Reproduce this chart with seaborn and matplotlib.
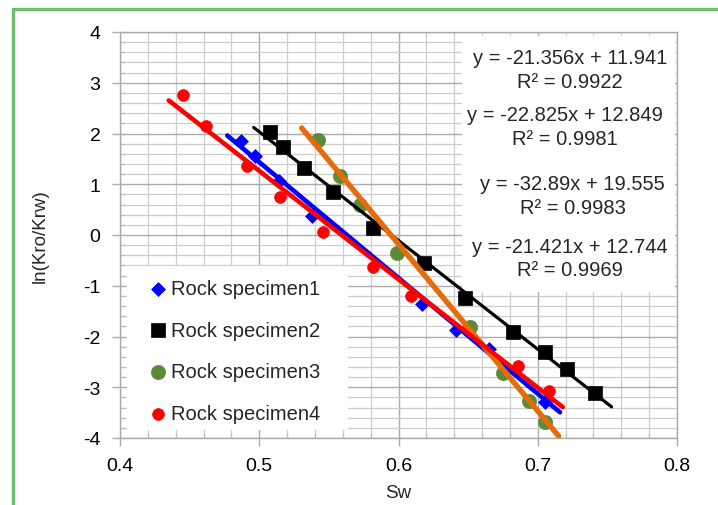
import numpy as np
import pandas as pd
import matplotlib.pyplot as plt
from matplotlib.patches import Rectangle
from matplotlib.ticker import MultipleLocator, FormatStrFormatter
import seaborn as sns

# ---- data ----
specimens = ["Rock specimen1", "Rock specimen2", "Rock specimen3", "Rock specimen4"]

sw1 = [0.487, 0.497, 0.514, 0.538, 0.617, 0.641, 0.665, 0.705]
ln1 = [1.86, 1.55, 1.07, 0.38, -1.36, -1.88, -2.25, -3.30]
sw2 = [0.508, 0.517, 0.532, 0.553, 0.582, 0.618, 0.648, 0.682, 0.705, 0.721, 0.741]
ln2 = [2.02, 1.73, 1.33, 0.84, 0.13, -0.55, -1.25, -1.91, -2.30, -2.65, -3.11]
sw3 = [0.542, 0.558, 0.572, 0.599, 0.651, 0.675, 0.694, 0.705]
ln3 = [1.87, 1.17, 0.59, -0.36, -1.82, -2.71, -3.27, -3.69]
sw4 = [0.445, 0.462, 0.491, 0.515, 0.546, 0.582, 0.609, 0.686, 0.708]
ln4 = [2.75, 2.15, 1.35, 0.74, 0.05, -0.64, -1.20, -2.58, -3.07]

# linear trendlines (slope, intercept) and the Sw span they cover
slopes = [-22.825, -21.421, -32.89, -21.356]
intercepts = [12.849, 12.744, 19.555, 11.941]
x_start = [0.477, 0.496, 0.5305, 0.435]
x_end = [0.716, 0.753, 0.715, 0.718]

# equation labels, top to bottom as they appear
eq_text = ["y = -21.356x + 11.941\nR² = 0.9922",
           "y = -22.825x + 12.849\nR² = 0.9981",
           "y = -32.89x + 19.555\nR² = 0.9983",
           "y = -21.421x + 12.744\nR² = 0.9969"]

# ---- style ----
sns.set_style("white")
plt.rcParams['font.family'] = ['Liberation Sans', 'DejaVu Sans']
plt.rcParams['axes.unicode_minus'] = False

marker_colors = ["#0000FF", "#000000", "#5B8A3A", "#FF0000"]
line_colors = ["#0000FF", "#000000", "#E46C0A", "#FF0000"]
markers = ["D", "s", "o", "o"]
marker_sizes = [50, 90, 105, 72]
line_widths = [3.3, 2.3, 3.9, 3.3]

sw_all = [sw1, sw2, sw3, sw4]
ln_all = [ln1, ln2, ln3, ln4]

fig = plt.figure(figsize=(7.18, 5.06), dpi=100)
ax = fig.add_axes([120 / 718, 1 - 439 / 506, 557 / 718, 406 / 506])
ax.set_axisbelow(True)

# markers
for i, name in enumerate(specimens):
    d = pd.DataFrame({"Sw": sw_all[i], "lnk": ln_all[i]})
    sns.scatterplot(data=d, x="Sw", y="lnk", marker=markers[i], s=marker_sizes[i],
                    color=marker_colors[i], edgecolor=marker_colors[i], linewidth=0.5,
                    label=name, ax=ax, zorder=3)

# trendlines (series order: 1, 2, 3, 4 -> red drawn last)
for i in range(4):
    xs = np.array([x_start[i], x_end[i]])
    tl = pd.DataFrame({"Sw": xs, "lnk": slopes[i] * xs + intercepts[i]})
    sns.lineplot(data=tl, x="Sw", y="lnk", color=line_colors[i], lw=line_widths[i],
                 ax=ax, zorder=4, legend=False)

ax.set_xlim(0.4, 0.8)
ax.set_ylim(-4, 4)
ax.xaxis.set_major_locator(MultipleLocator(0.1))
ax.xaxis.set_minor_locator(MultipleLocator(0.02))
ax.yaxis.set_major_locator(MultipleLocator(1))
ax.yaxis.set_minor_locator(MultipleLocator(0.2))
ax.xaxis.set_major_formatter(FormatStrFormatter('%.1f'))
ax.yaxis.set_major_formatter(FormatStrFormatter('%d'))

ax.grid(True, which='major', color='#ABABAB', lw=1.0)
ax.grid(True, which='minor', color='#CDCDCD', lw=0.9)
for s in ax.spines.values():
    s.set_color('#ABABAB')
    s.set_linewidth(1.0)
ax.tick_params(which='major', direction='out', length=6, width=1.0, color='#ABABAB',
               labelsize=14, pad=8, labelcolor='black', left=True, bottom=True)
ax.tick_params(which='minor', direction='in', length=3.5, width=0.9, color='#C0C0C0',
               left=True, bottom=True)

ax.set_xlabel("Sw", fontsize=13.5)
ax.set_ylabel("ln(Kro/Krw)", fontsize=13.5)
ax.xaxis.set_label_coords(0.5, -0.113)
ax.yaxis.set_label_coords(-0.128, 0.5)

# white panels behind the equations and the legend
ax.add_patch(Rectangle((0.614, 0.36), 0.382, 0.63, transform=ax.transAxes,
                       facecolor='white', edgecolor='none', zorder=1))
ax.add_patch(Rectangle((0.012, 0.02), 0.397, 0.404, transform=ax.transAxes,
                       facecolor='white', edgecolor='none', zorder=1))

eq_pos = [(0.808, 0.9076), (0.799, 0.767), (0.813, 0.597), (0.808, 0.443)]
for (px, py), t in zip(eq_pos, eq_text):
    ax.text(px, py, t, transform=ax.transAxes, ha='center', va='center',
            multialignment='center', fontsize=14.5, linespacing=1.3, zorder=5)

leg = ax.legend(loc='upper left', bbox_to_anchor=(0.05, 0.392), frameon=False,
                fontsize=14.5, handlelength=1.0, handletextpad=0.15, borderpad=0,
                borderaxespad=0, labelspacing=1.13)

# green outer frame (only left and top edge visible in the crop)
fig.add_artist(Rectangle((12.7 / 718, -0.2), 1.5, 1.2 - 10 / 506, transform=fig.transFigure,
                         facecolor='none', edgecolor='#6CBF6C', lw=2.4))

fig.savefig("out.png", dpi=100)
